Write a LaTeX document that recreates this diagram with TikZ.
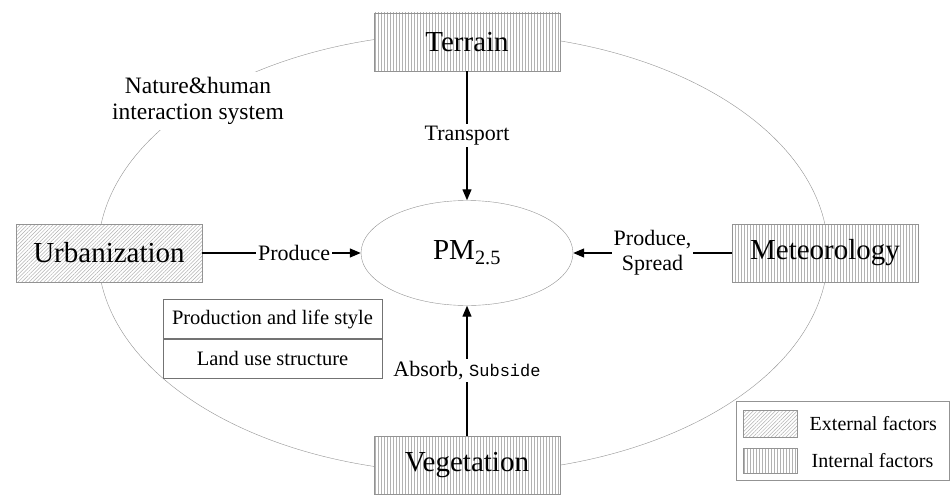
\documentclass[tikz,border=0pt]{standalone}
\usepackage{fontspec}
\setmainfont{Liberation Serif}
\setmonofont{Liberation Mono}
\usetikzlibrary{arrows.meta,positioning,calc,shapes.geometric,patterns.meta}

\begin{document}
\begin{tikzpicture}[x=1pt, y=-1pt,
  factor/.style={draw=gray!85, minimum width=186pt, minimum height=58pt, inner sep=0pt,
                 font=\fontsize{29}{34}\selectfont},
  ext/.style={preaction={fill=white}, pattern={Lines[angle=45, distance=2.6pt, line width=0.5pt]}, pattern color=gray!60},
  int/.style={preaction={fill=white}, pattern={Lines[angle=90, distance=3pt, line width=0.5pt]}, pattern color=gray!60},
  lbl/.style={fill=white, inner sep=2pt, align=center, font=\fontsize{22}{25}\selectfont},
  cell/.style={draw=gray!90!black, minimum width=219pt, minimum height=39pt, inner sep=0pt,
               font=\fontsize{20.5}{24}\selectfont},
  arr/.style={-{Triangle[length=11pt, width=9pt]}, line width=1.3pt}
]
\useasboundingbox (0,0) rectangle (950,495);

% system boundary
\node[ellipse, draw=gray!85, minimum width=730pt, minimum height=440pt] (sys) at (463,253) {};
\node[lbl, inner sep=5pt, font=\fontsize{23.5}{26}\selectfont] (nh) at (198,101) {Nature\&human\\interaction system};

% factors
\node[factor, int] (ter) at (467,42) {Terrain};
\node[factor, ext] (urb) at (109,253) {Urbanization};
\node[factor, int] (met) at (825,253) {Meteorology};
\node[factor, int] (veg) at (467,465) {Vegetation};

\node[ellipse, draw=gray!85, minimum width=212pt, minimum height=105pt,
      font=\fontsize{29}{34}\selectfont] (pm) at (467,253) {PM\textsubscript{2.5}};

% urbanization aspects
\node[cell] (pls) at (272.5,319) {Production and life style};
\node[cell, below=0pt of pls] (lus) {Land use structure};

% legend
\node[draw=gray!85, minimum width=213pt, minimum height=79pt] (leg) at (843,440.5) {};
\node[draw=gray!85, ext, minimum width=54pt, minimum height=27pt] (sw1) at (770,423.5) {};
\node[draw=gray!85, int, minimum width=54pt, minimum height=25pt] (sw2) at (770,460.5) {};
\node[font=\fontsize{20}{23}\selectfont, right=9pt of sw1] (t1) {External factors};
\node[font=\fontsize{20}{23}\selectfont, right=11pt of sw2] (t2) {Internal factors};

\draw[arr] (ter) -- node[lbl] {Transport} (pm);
\draw[arr] (urb) -- node[lbl, pos=0.58] {Produce} (pm);
\draw[arr] (met) -- node[lbl] {Produce,\\Spread} (pm);
\draw[arr] (veg) -- node[lbl] {Absorb, {\ttfamily\fontsize{17}{20}\selectfont Subside}} (pm);
\end{tikzpicture}
\end{document}
